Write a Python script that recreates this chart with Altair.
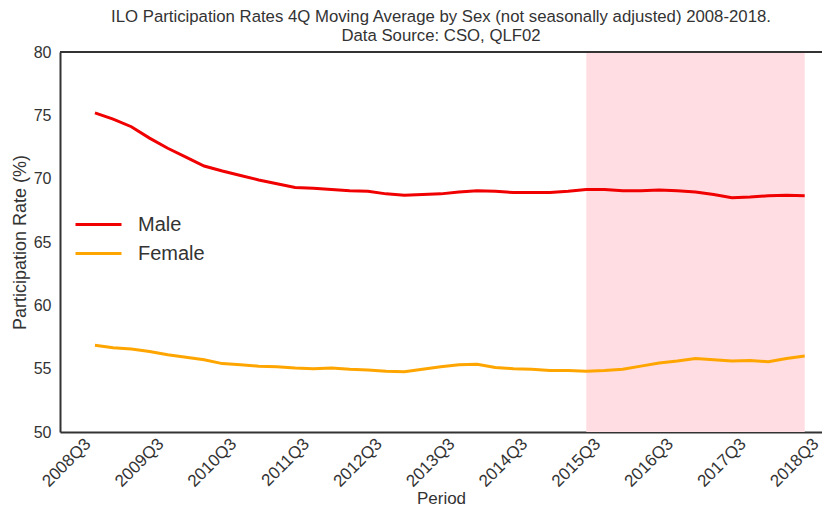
import altair as alt
import pandas as pd

# ---- data ----
periods = [
    "2008Q4", "2009Q1", "2009Q2", "2009Q3", "2009Q4", "2010Q1", "2010Q2", "2010Q3",
    "2010Q4", "2011Q1", "2011Q2", "2011Q3", "2011Q4", "2012Q1", "2012Q2", "2012Q3",
    "2012Q4", "2013Q1", "2013Q2", "2013Q3", "2013Q4", "2014Q1", "2014Q2", "2014Q3",
    "2014Q4", "2015Q1", "2015Q2", "2015Q3", "2015Q4", "2016Q1", "2016Q2", "2016Q3",
    "2016Q4", "2017Q1", "2017Q2", "2017Q3", "2017Q4", "2018Q1", "2018Q2", "2018Q3",
]
male = [
    75.2, 74.7, 74.1, 73.2, 72.4, 71.7, 71.0, 70.6,
    70.25, 69.9, 69.6, 69.3, 69.25, 69.15, 69.05, 69.0,
    68.8, 68.7, 68.75, 68.8, 68.95, 69.05, 69.0, 68.9,
    68.9, 68.9, 69.0, 69.15, 69.15, 69.05, 69.05, 69.1,
    69.05, 68.95, 68.75, 68.5, 68.55, 68.65, 68.7, 68.65,
]
female = [
    56.85, 56.65, 56.55, 56.35, 56.1, 55.9, 55.7, 55.4,
    55.3, 55.2, 55.15, 55.05, 55.0, 55.05, 54.95, 54.9,
    54.8, 54.75, 54.95, 55.15, 55.3, 55.35, 55.1, 55.0,
    54.95, 54.85, 54.85, 54.8, 54.85, 54.95, 55.2, 55.45,
    55.6, 55.8, 55.7, 55.6, 55.65, 55.55, 55.8, 56.0,
]
tick_labels = ["2008Q3", "2009Q3", "2010Q3", "2011Q3", "2012Q3", "2013Q3",
               "2014Q3", "2015Q3", "2016Q3", "2017Q3", "2018Q3"]
shade_span = ["2015Q3", "2018Q3"]
series_names = ["Male", "Female"]
series_colors = ["#f00000", "#ffa500"]


def q_index(p):
    return (int(p[:4]) - 2008) * 4 + (int(p[-1]) - 3)


rows = []
for name, vals in zip(series_names, [male, female]):
    for p, v in zip(periods, vals):
        rows.append({"period": p, "idx": q_index(p), "sex": name, "rate": v})
df = pd.DataFrame(rows)
shade_df = pd.DataFrame({"idx": [q_index(shade_span[0])], "idx_end": [q_index(shade_span[1])]})
tick_vals = [q_index(t) for t in tick_labels]

W, H = 762, 380

label_js = "[" + ",".join("'" + t + "'" for t in tick_labels) + "]"
x_scale = alt.Scale(domain=[-0.92, 40.95], nice=False, zero=False)
x_axis = alt.Axis(
    title="Period", values=tick_vals, grid=False, ticks=False,
    labelExpr=label_js + "[round(datum.value/4)]",
    labelAngle=-45, labelAlign="right", labelBaseline="middle",
    labelOffset=11, labelPadding=9, labelFontSize=17, labelColor="#333333",
    titleFontSize=17, titleFontWeight="normal", titleColor="#333333",
    titleBaseline="alphabetic", titleY=71,
    domainColor="#333333", domainWidth=2, labelFlush=False, labelOverlap=False,
)
y_scale = alt.Scale(domain=[50, 80], nice=False, zero=False)
y_axis = alt.Axis(
    title="Participation Rate (%)", values=[50, 55, 60, 65, 70, 75, 80], grid=False, ticks=False,
    labelFontSize=16, labelColor="#333333", labelPadding=9,
    titleFontSize=18, titleFontWeight="normal", titleColor="#333333", titlePadding=4,
    domainColor="#333333", domainWidth=2,
)

shade = alt.Chart(shade_df).mark_rect(color="#ffdde3").encode(
    x=alt.X("idx:Q", scale=x_scale, axis=x_axis),
    x2="idx_end:Q",
    y=alt.value(0),
    y2=alt.value(H),
)

lines = alt.Chart(df).mark_line(strokeWidth=3).encode(
    x=alt.X("idx:Q", scale=x_scale, axis=x_axis),
    y=alt.Y("rate:Q", scale=y_scale, axis=y_axis),
    color=alt.Color(
        "sex:N",
        scale=alt.Scale(domain=series_names, range=series_colors),
        legend=alt.Legend(
            title=None, orient="none", legendX=14, legendY=158,
            symbolType="stroke", symbolSize=2116, symbolStrokeWidth=3,
            labelFontSize=20, labelColor="#333333", labelOffset=15,
            clipHeight=29, rowPadding=0,
        ),
    ),
    order="idx:Q",
)

top = alt.Chart(pd.DataFrame({"a": [0]})).mark_rule(color="#333333", strokeWidth=2).encode(
    x=alt.value(0), x2=alt.value(W), y=alt.value(0)
)

chart = alt.layer(shade, lines, top).properties(
    width=W, height=H,
    title=alt.TitleParams(
        text=["ILO Participation Rates 4Q Moving Average by Sex (not seasonally adjusted) 2008-2018.",
              "Data Source: CSO, QLF02"],
        fontSize=16.75, fontWeight="normal", color="#333333", offset=-1, lineHeight=19,
        anchor="middle",
    ),
    autosize=alt.AutoSizeParams(type="none"),
    padding={"left": 52, "top": 44, "right": 0, "bottom": 74},
).configure(font="Liberation Sans").configure_view(stroke=None)

chart.save("out.html", embed_options={"renderer": "svg", "actions": False})
